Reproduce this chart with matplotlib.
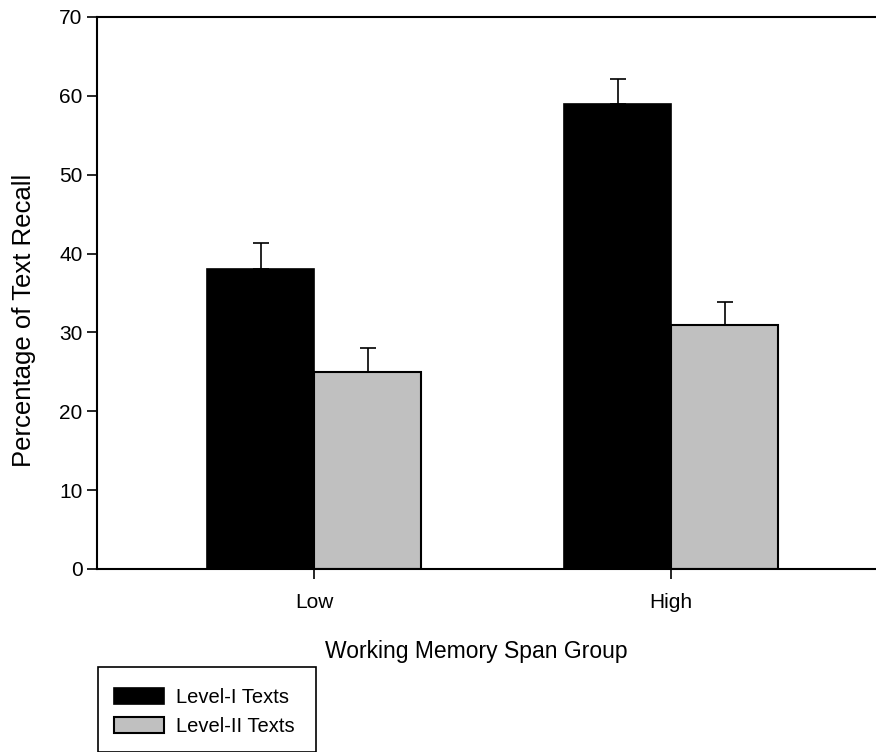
import numpy as np
import matplotlib.pyplot as plt
from matplotlib.patches import Rectangle

plt.rcParams['font.family'] = ['Liberation Sans', 'DejaVu Sans']

groups = ['Low', 'High']
level1 = [38, 59]
level2 = [25, 31]
level1_err = [3.3, 3.2]
level2_err = [3.0, 2.8]

fig = plt.figure(figsize=(8.76, 7.52), dpi=100)
ax = fig.add_axes([97 / 876, 1 - 569 / 752, 1 - 97 / 876, (569 - 17) / 752])

x = np.arange(len(groups))
w = 0.3
ax.bar(x - w / 2, level1, w, color='black', edgecolor='black', linewidth=1.2,
       label='Level-I Texts')
ax.bar(x + w / 2, level2, w, color='#c0c0c0', edgecolor='black', linewidth=1.5,
       label='Level-II Texts')
ax.errorbar(x - w / 2, level1, yerr=[np.zeros(2), level1_err], fmt='none',
            ecolor='black', elinewidth=1.2, capsize=6, capthick=1.2)
ax.errorbar(x + w / 2, level2, yerr=[np.zeros(2), level2_err], fmt='none',
            ecolor='black', elinewidth=1.2, capsize=6, capthick=1.2)

ax.set_xlim(-0.608, 1.574)
ax.set_ylim(0, 70)
ax.set_yticks(np.arange(0, 71, 10))
ax.set_xticks(x)
ax.set_xticklabels(groups)
ax.spines['right'].set_visible(False)
for s in ['left', 'bottom', 'top']:
    ax.spines[s].set_linewidth(1.5)
ax.tick_params(axis='both', direction='out', length=7, width=1.2, labelsize=15)
ax.tick_params(axis='x', pad=10)
ax.set_xlabel('Working Memory Span Group', fontsize=16.5)
ax.xaxis.set_label_coords(0.4865, -0.128)
ax.set_ylabel('Percentage of Text Recall', fontsize=18.5)
ax.yaxis.set_label_coords(-0.078, 0.451)

# legend frame runs off the bottom edge like in the original
fig.patches.append(Rectangle((98 / 876, 0), (316 - 98) / 876, (752 - 667) / 752,
                             transform=fig.transFigure, fill=False,
                             edgecolor='black', linewidth=1.2))
fig.legend(loc='upper left', bbox_to_anchor=(114 / 876, 1 - 687.5 / 752),
           frameon=False, fontsize=14.5, handlelength=2.5, handleheight=0.85,
           handletextpad=0.6, labelspacing=0.52, borderaxespad=0, borderpad=0)

fig.savefig('out.png', dpi=100)
